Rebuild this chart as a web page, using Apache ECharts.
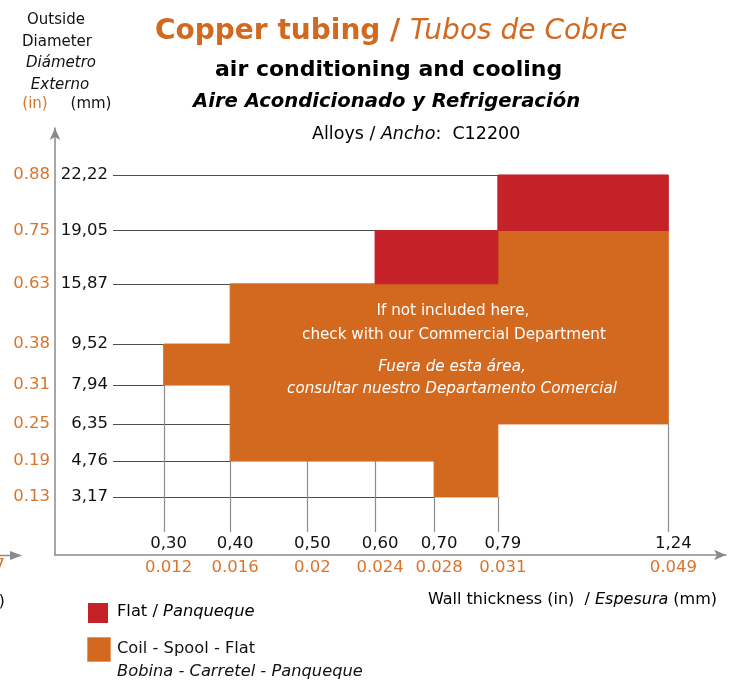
<!DOCTYPE html>
<html>
<head>
<meta charset="utf-8">
<script src="https://cdn.jsdelivr.net/npm/echarts@6/dist/echarts.min.js"></script>
<style>
  html, body { margin: 0; padding: 0; background: #fff; }
  #main { width: 741px; height: 683px; }
</style>
</head>
<body>
<div id="main"></div>
<script>
// 壁厚 (mm) 刻度
var xTickMM = [0.30, 0.40, 0.50, 0.60, 0.70, 0.79, 1.24];
var xTickMMLabel = ['0,30', '0,40', '0,50', '0,60', '0,70', '0,79', '1,24'];
var xTickIn = ['0.012', '0.016', '0.02', '0.024', '0.028', '0.031', '0.049'];
// 外径 (mm) 刻度
var yTickMM = [3.17, 4.76, 6.35, 7.94, 9.52, 15.87, 19.05, 22.22];
var yTickMMLabel = ['3,17', '4,76', '6,35', '7,94', '9,52', '15,87', '19,05', '22,22'];
var yTickIn = ['0.13', '0.19', '0.25', '0.31', '0.38', '0.63', '0.75', '0.88'];
// 原图的坐标轴不是等比例的：每个刻度在示意轴上的位置
var xSlot = [1.62, 2.61, 3.76, 4.77, 5.65, 6.60, 9.14];
var ySlot = [1.36, 2.20, 3.07, 3.98, 4.94, 6.35, 7.60, 8.90];
// 区块 [壁厚起, 壁厚止, 外径起, 外径止]
var flatBlocks = [[0.60, 0.79, 15.87, 19.05], [0.79, 1.24, 19.05, 22.22]];
var coilBlocks = [[0.30, 0.40, 7.94, 9.52], [0.40, 0.79, 4.76, 15.87], [0.70, 0.79, 3.17, 4.76], [0.79, 1.24, 6.35, 19.05]];

var ORANGE = '#D3691F', RED = '#C42128', ORANGE_TXT = '#D9742B';
var FONT = 'DejaVu Sans';
var allBlocks = flatBlocks.concat(coilBlocks);

// 分段线性映射
function piece(v, ticks, slots) {
    for (var i = 0; i < ticks.length - 1; i++) {
        if (v <= ticks[i + 1]) {
            return slots[i] + (v - ticks[i]) / (ticks[i + 1] - ticks[i]) * (slots[i + 1] - slots[i]);
        }
    }
    return slots[slots.length - 1];
}
function sx(v) { return piece(v, xTickMM, xSlot); }
function sy(v) { return piece(v, yTickMM, ySlot); }
function crisp(p) { return Math.round(p) + 0.5; }

function blockRender(color) {
    return function (params, api) {
        var p0 = api.coord([sx(api.value(0)), sy(api.value(3))]);
        var p1 = api.coord([sx(api.value(1)), sy(api.value(2))]);
        return {
            type: 'rect',
            shape: {x: p0[0], y: p0[1], width: p1[0] - p0[0], height: p1[1] - p0[1]},
            style: {fill: color, stroke: color, lineWidth: 1}
        };
    };
}

var myChart = echarts.init(document.getElementById('main'));

var labelAxisBase = {
    type: 'value', min: 0, max: 10, gridIndex: 0,
    axisLine: {show: false}, axisTick: {show: false}, splitLine: {show: false}
};

option = {
    animation: false,
    grid: {left: 55, right: 15, top: 128, bottom: 128},
    xAxis: [
        {
            type: 'value', min: 0, max: 10, position: 'bottom',
            axisLine: {lineStyle: {color: '#8a8a8a', width: 1.5}, symbol: ['none', 'arrow'], symbolSize: [8, 12]},
            axisTick: {show: false}, axisLabel: {show: false}, splitLine: {show: false}
        },
        echarts.util.merge({
            position: 'bottom', offset: -20,
            axisLabel: {
                customValues: xSlot, margin: 0, padding: [0, 0, 0, 10],
                color: '#111', fontSize: 16.5, fontFamily: FONT,
                formatter: function (v) { return xTickMMLabel[xSlot.indexOf(v)]; }
            }
        }, labelAxisBase, true),
        echarts.util.merge({
            position: 'bottom', offset: 0,
            axisLabel: {
                customValues: xSlot, margin: 4, padding: [0, 0, 0, 10],
                color: ORANGE_TXT, fontSize: 16.5, fontFamily: FONT,
                formatter: function (v) { return xTickIn[xSlot.indexOf(v)]; }
            }
        }, labelAxisBase, true)
    ],
    yAxis: [
        {
            type: 'value', min: 0, max: 10, position: 'left',
            axisLine: {lineStyle: {color: '#8a8a8a', width: 1.5}, symbol: ['none', 'arrow'], symbolSize: [8, 12]},
            axisTick: {show: false}, axisLabel: {show: false}, splitLine: {show: false}
        },
        echarts.util.merge({
            position: 'left', offset: -53,
            axisLabel: {
                customValues: ySlot, margin: 0,
                color: '#111', fontSize: 16.5, fontFamily: FONT,
                formatter: function (v) { return yTickMMLabel[ySlot.indexOf(v)]; }
            }
        }, labelAxisBase, true),
        echarts.util.merge({
            position: 'left', offset: 0,
            axisLabel: {
                customValues: ySlot, margin: 5,
                color: ORANGE_TXT, fontSize: 16.5, fontFamily: FONT,
                formatter: function (v) { return yTickIn[ySlot.indexOf(v)]; }
            }
        }, labelAxisBase, true)
    ],
    series: [
        {
            // 横向引线：从标签到区块左边缘
            type: 'custom', name: 'hLines', silent: true, z: 1,
            data: yTickMM.map(function (v) { return [0, v]; }),
            renderItem: function (params, api) {
                var v = yTickMM[params.dataIndex];
                var minX = Infinity;
                allBlocks.forEach(function (b) {
                    if (v >= b[2] && v <= b[3]) { minX = Math.min(minX, b[0]); }
                });
                var start = api.coord([0, sy(v)]);
                var end = api.coord([sx(minX), sy(v)]);
                var y = crisp(end[1]);
                return {type: 'line', shape: {x1: start[0] + 58, y1: y, x2: end[0], y2: y},
                    style: {stroke: '#4d4d4d', lineWidth: 1}};
            }
        },
        {
            // 纵向引线：从标签到区块下边缘
            type: 'custom', name: 'vLines', silent: true, z: 1,
            data: xTickMM.map(function (v) { return [v, 0]; }),
            renderItem: function (params, api) {
                var v = xTickMM[params.dataIndex];
                var minY = Infinity;
                allBlocks.forEach(function (b) {
                    if (v >= b[0] && v <= b[1]) { minY = Math.min(minY, b[2]); }
                });
                var start = api.coord([sx(v), 0]);
                var end = api.coord([sx(v), sy(minY)]);
                var x = crisp(end[0]);
                return {type: 'line', shape: {x1: x, y1: start[1] - 23, x2: x, y2: end[1]},
                    style: {stroke: '#8c8c8c', lineWidth: 1.2}};
            }
        },
        {
            type: 'custom', name: 'Coil - Spool - Flat', z: 2,
            itemStyle: {color: ORANGE},
            data: coilBlocks,
            renderItem: blockRender(ORANGE)
        },
        {
            type: 'custom', name: 'Flat', z: 3,
            itemStyle: {color: RED},
            data: flatBlocks,
            renderItem: blockRender(RED)
        }
    ],
    graphic: [
        // 标题
        {type: 'text', left: 155, top: 18, style: {
            text: '{a|Copper tubing / }{b|Tubos de Cobre}',
            rich: {
                a: {fontFamily: FONT, fontSize: 28, fontWeight: 'bold', fill: ORANGE, color: ORANGE},
                b: {fontFamily: FONT, fontSize: 28, fontStyle: 'italic', fill: ORANGE, color: ORANGE}
            }
        }},
        {type: 'text', left: 215, top: 59, style: {
            text: 'air conditioning and cooling', fontFamily: FONT, fontSize: 22, fontWeight: 'bold', fill: '#000'
        }},
        {type: 'text', left: 193, top: 92, style: {
            text: 'Aire Acondicionado y Refrigeración', fontFamily: FONT, fontSize: 19.6,
            fontWeight: 'bold', fontStyle: 'italic', fill: '#000'
        }},
        {type: 'text', left: 312, top: 125, style: {
            text: '{a|Alloys / }{b|Ancho}{a|:  C12200}',
            rich: {
                a: {fontFamily: FONT, fontSize: 17.5, color: '#111'},
                b: {fontFamily: FONT, fontSize: 17.5, fontStyle: 'italic', color: '#111'}
            }
        }},
        // 纵轴标题
        {type: 'text', x: 56, y: 20, style: {text: 'Outside', fontFamily: FONT, fontSize: 15, fill: '#111', align: 'center', verticalAlign: 'middle'}},
        {type: 'text', x: 57, y: 42, style: {text: 'Diameter', fontFamily: FONT, fontSize: 15, fill: '#111', align: 'center', verticalAlign: 'middle'}},
        {type: 'text', x: 61, y: 63, style: {text: 'Diámetro', fontFamily: FONT, fontSize: 15, fontStyle: 'italic', fill: '#111', align: 'center', verticalAlign: 'middle'}},
        {type: 'text', x: 60, y: 85, style: {text: 'Externo', fontFamily: FONT, fontSize: 15, fontStyle: 'italic', fill: '#111', align: 'center', verticalAlign: 'middle'}},
        {type: 'text', x: 35, y: 104, style: {text: '(in)', fontFamily: FONT, fontSize: 15, fill: ORANGE_TXT, align: 'center', verticalAlign: 'middle'}},
        {type: 'text', x: 91, y: 104, style: {text: '(mm)', fontFamily: FONT, fontSize: 15, fill: '#111', align: 'center', verticalAlign: 'middle'}},
        // 横轴标题
        {type: 'text', left: 428, top: 592, style: {
            text: '{a|Wall thickness }{o|(in)}{a|  / }{i|Espesura}{a| (mm)}',
            rich: {
                a: {fontFamily: FONT, fontSize: 16, color: '#111'},
                o: {fontFamily: FONT, fontSize: 16, color: ORANGE_TXT},
                i: {fontFamily: FONT, fontSize: 16, fontStyle: 'italic', color: '#111'}
            }
        }},
        // 区块中的说明
        {type: 'text', x: 453, y: 311, style: {text: 'If not included here,', fontFamily: FONT, fontSize: 15.2, fill: '#fff', align: 'center', verticalAlign: 'middle'}, z: 10},
        {type: 'text', x: 454, y: 335, style: {text: 'check with our Commercial Department', fontFamily: FONT, fontSize: 15.2, fill: '#fff', align: 'center', verticalAlign: 'middle'}, z: 10},
        {type: 'text', x: 452, y: 367, style: {text: 'Fuera de esta área,', fontFamily: FONT, fontSize: 15.2, fontStyle: 'italic', fill: '#fff', align: 'center', verticalAlign: 'middle'}, z: 10},
        {type: 'text', x: 452, y: 389, style: {text: 'consultar nuestro Departamento Comercial', fontFamily: FONT, fontSize: 15.2, fontStyle: 'italic', fill: '#fff', align: 'center', verticalAlign: 'middle'}, z: 10},
        // 图例
        {type: 'rect', shape: {x: 88, y: 603, width: 20, height: 20}, style: {fill: RED}},
        {type: 'text', left: 117, top: 604, style: {
            text: '{a|Flat / }{i|Panqueque}',
            rich: {
                a: {fontFamily: FONT, fontSize: 16.3, color: '#111'},
                i: {fontFamily: FONT, fontSize: 16.3, fontStyle: 'italic', color: '#111'}
            }
        }},
        {type: 'rect', shape: {x: 87.5, y: 637.5, width: 23, height: 24}, style: {fill: ORANGE, stroke: '#E39A68', lineWidth: 1}},
        {type: 'text', x: 117, y: 649, style: {text: 'Coil - Spool - Flat', fontFamily: FONT, fontSize: 16.3, fill: '#111', verticalAlign: 'middle'}},
        {type: 'text', x: 117, y: 672, style: {text: 'Bobina - Carretel - Panqueque', fontFamily: FONT, fontSize: 16.3, fontStyle: 'italic', fill: '#111', verticalAlign: 'middle'}},
        // 左侧被裁掉的相邻图形残余
        {type: 'line', shape: {x1: 0, y1: 555.5, x2: 16, y2: 555.5}, style: {stroke: '#8a8a8a', lineWidth: 1.5}},
        {type: 'polygon', shape: {points: [[10, 551], [22, 555.5], [10, 560]]}, style: {fill: '#8a8a8a'}},
        {type: 'text', x: 5, y: 566, style: {text: '7', fontFamily: FONT, fontSize: 16.5, fill: ORANGE_TXT, align: 'right', verticalAlign: 'middle'}},
        {type: 'text', x: 5, y: 602, style: {text: ')', fontFamily: FONT, fontSize: 16.5, fill: '#111', align: 'right', verticalAlign: 'middle'}}
    ]
};
myChart.setOption(option);
</script>
</body>
</html>
